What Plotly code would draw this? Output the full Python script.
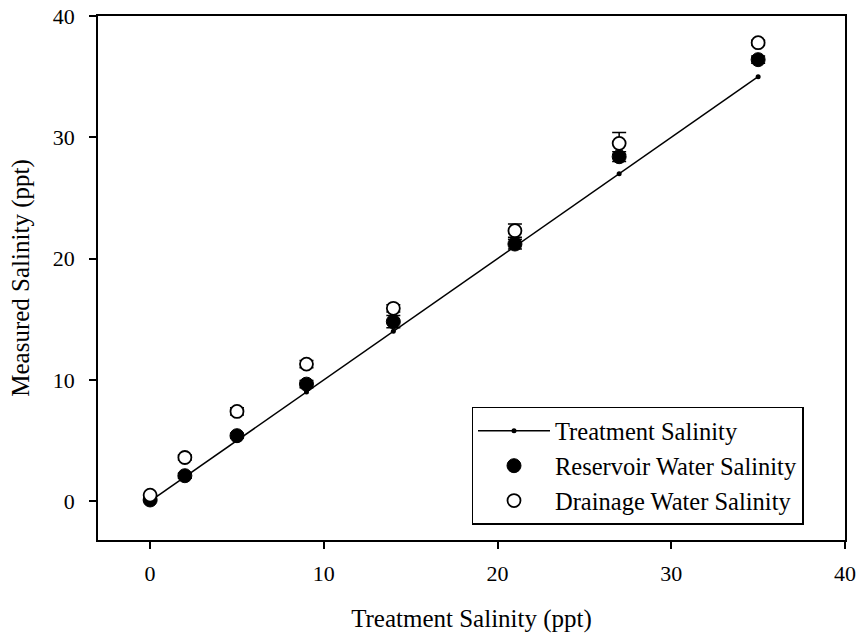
import plotly.graph_objects as go

# Treatment levels (ppt)
treatment = [0, 2, 5, 9, 14, 21, 27, 35]

# Measured salinity means and standard errors (ppt)
reservoir = [0.1, 2.1, 5.4, 9.65, 14.8, 21.2, 28.4, 36.4]
reservoir_err = [0.1, 0.2, 0.2, 0.3, 0.5, 0.4, 0.4, 0.3]
drainage = [0.5, 3.6, 7.4, 11.3, 15.9, 22.3, 29.5, 37.8]
drainage_err = [0.1, 0.2, 0.3, 0.3, 0.3, 0.55, 0.9, 0.2]

serif = "Liberation Serif, Times New Roman, serif"

fig = go.Figure()

fig.add_trace(go.Scatter(
    x=treatment, y=treatment, mode="lines+markers",
    name="Treatment Salinity",
    line=dict(color="black", width=1.5),
    marker=dict(color="black", size=5),
))

fig.add_trace(go.Scatter(
    x=treatment, y=reservoir, mode="markers",
    name="Reservoir Water Salinity",
    marker=dict(color="black", size=14, line=dict(color="black", width=1)),
    error_y=dict(type="data", array=reservoir_err, color="black",
                 thickness=1.5, width=7),
))

fig.add_trace(go.Scatter(
    x=treatment, y=drainage, mode="markers",
    name="Drainage Water Salinity",
    marker=dict(color="white", size=13, line=dict(color="black", width=1.8)),
    error_y=dict(type="data", array=drainage_err, color="black",
                 thickness=1.5, width=7),
))

axis_common = dict(
    showline=True, linecolor="black", linewidth=1.5, mirror=True,
    ticks="outside", ticklen=7, tickwidth=1.5, tickcolor="black",
    showgrid=False, zeroline=False, automargin=False,
    tickfont=dict(family=serif, size=22, color="black"),
    title_font=dict(family=serif, size=25, color="black"),
)

fig.update_xaxes(range=[-3, 40], dtick=10, title_text="Treatment Salinity (ppt)",
                 ticklabelstandoff=6, title_standoff=24, **axis_common)
fig.update_yaxes(range=[-3.2, 40], dtick=10, title_text="Measured Salinity (ppt)",
                 ticklabelstandoff=10, title_standoff=16, **axis_common)

fig.update_layout(
    width=859, height=638,
    margin=dict(l=98, r=14, t=16, b=98),
    plot_bgcolor="white", paper_bgcolor="white",
    font=dict(family=serif, color="black"),
    legend=dict(
        x=0.5, y=0.254, xanchor="left", yanchor="top",
        bordercolor="black", borderwidth=1.5, bgcolor="white",
        font=dict(family=serif, size=24.5, color="black"),
        itemwidth=72,
    ),
)

fig.write_html("out.html")
